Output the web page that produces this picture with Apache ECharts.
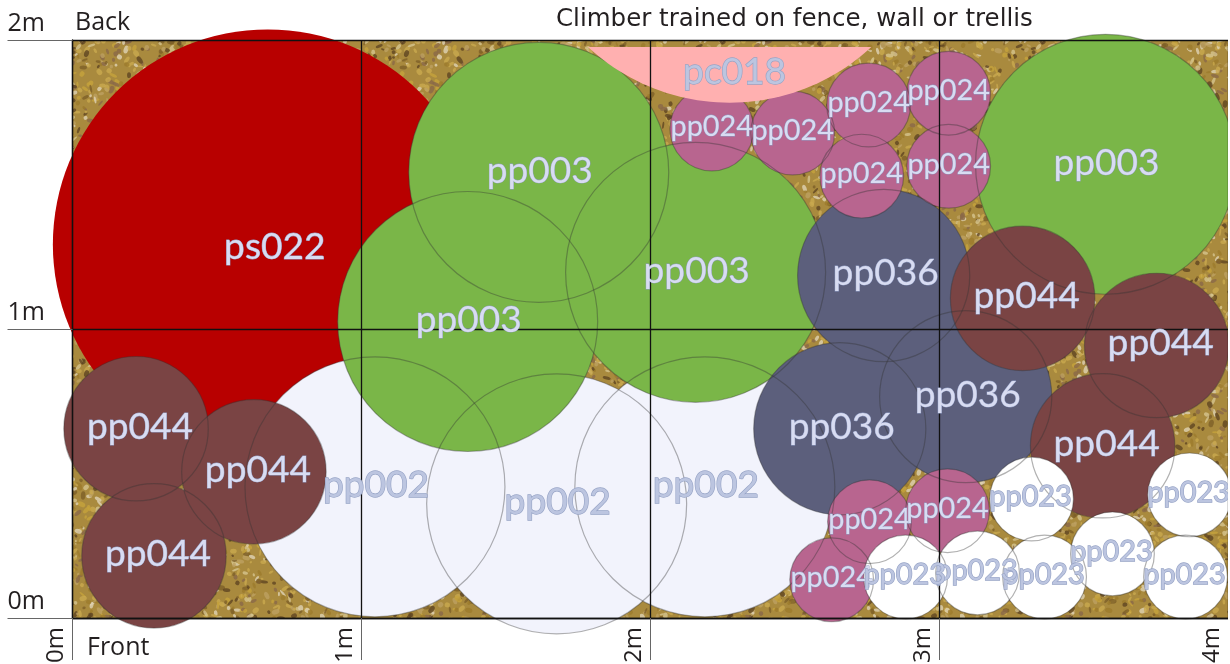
<!DOCTYPE html>
<html><head><meta charset="utf-8">
<style>html,body{margin:0;padding:0;background:#fff}#c{width:1230px;height:664px}</style>
<script src="https://cdn.jsdelivr.net/npm/echarts@6/dist/echarts.min.js"></script>
</head><body><div id="c"></div>
<script>
// positions in metres: [x, y]; radii in metres
const xTicks = ['0m','1m','2m','3m','4m'];
const yTicks = ['0m','1m','2m'];
const ps022 = [[0.676,1.293]];
const pp002 = [[1.047,0.454],[1.676,0.395],[2.189,0.454]];
const pp003 = [[1.614,1.542],[1.368,1.026],[2.157,1.196],[3.576,1.570]];
const pp036 = [[2.808,1.185],[2.656,0.655],[3.092,0.766]];
const pp044 = [[3.289,1.106],[3.753,0.943],[3.566,0.596],[0.220,0.655],[0.628,0.506],[0.282,0.215]];
const pp024 = [[2.213,1.692],[2.493,1.678],[2.756,1.775],[3.033,1.816],[2.732,1.529],[3.033,1.563],[2.759,0.333],[3.029,0.371],[2.628,0.132]];
const pp023 = [[3.320,0.412],[3.867,0.426],[3.600,0.222],[3.853,0.142],[3.365,0.142],[3.133,0.156],[2.884,0.142]];
const pc018 = [2.275,2.503];      // centre of climber's circle
const pc018Radius = 0.72;
const pc018Chord = 1.976;         // the fence-side cut of the climber
const pc018Label = [2.292,1.889];

const darkText={fill:'#d8dcf2',stroke:'#8f9cc4',lineWidth:0.8};
const paleText={fill:'#bcc5e0',stroke:'#97a4c6',lineWidth:1.3};
const species = [
  {name:'ps022', pts:ps022, r:0.744, fill:'#b80000', size:36, shift:[7,3], noLine:true, text:darkText},
  {name:'pp002', pts:pp002, r:0.45,  fill:'#f2f3fc', size:36, shift:[1,-2], text:paleText},
  {name:'pp003', pts:pp003, r:0.45,  fill:'#7ab648', size:36, shift:[1,-1], text:darkText},
  {name:'pp036', pts:pp036, r:0.298, fill:'#5c5f7c', size:36, shift:[2,-2], text:darkText},
  {name:'pp044', pts:pp044, r:0.25,  fill:'#7a4444', size:36, shift:[4,-2], text:darkText},
  {name:'pp024', pts:pp024, r:0.145, fill:'#b8658f', size:28, shift:[0,-2], text:darkText},
  {name:'pp023', pts:pp023, r:0.145, fill:'#ffffff', size:28, shift:[-1,-2], text:paleText},
  {name:'pc018', climber:true,       fill:'#ffb0b0', size:36, noLine:true, text:paleText}
];
// flat rows for the library: [speciesIndex, x, y, r]
const rows = [];
species.forEach((s,i)=>{
  if (s.climber) rows.push([i,pc018[0],pc018[1],pc018Radius]);
  else s.pts.forEach(p=>rows.push([i,p[0],p[1],s.r]));
});

function gravel(){
  const S=320, cv=document.createElement('canvas'); cv.width=cv.height=S;
  const g=cv.getContext('2d'); g.fillStyle='#a98a3e'; g.fillRect(0,0,S,S);
  let seed=12345; const rnd=()=>(seed=(seed*1664525+1013904223)%4294967296)/4294967296;
  const cols=['#7d5f28','#c9a94f','#9c7a2c','#d6c48e','#5f4522','#bda062','#ded2b4','#8a6848','#c6a23c','#c9a94f'];
  for(let i=0;i<2600;i++){
    g.fillStyle=cols[Math.floor(rnd()*cols.length)];
    g.globalAlpha=0.8;
    g.beginPath();
    g.ellipse(rnd()*S,rnd()*S,1.2+rnd()*3,0.9+rnd()*1.8,rnd()*3.14,0,6.3); g.fill();
  }
  return cv;
}

const font='"Open Sans","Noto Sans",sans-serif';
const labelFont='Lato,"Open Sans",sans-serif';
function climberPoints(api,row){
  const pts=[], dy=row[2]-pc018Chord, half=Math.acos(dy/row[3]);
  for(let k=0;k<=48;k++){
    const a=-half+2*half*k/48;
    pts.push(api.coord([row[1]+row[3]*Math.sin(a), row[2]-row[3]*Math.cos(a)]));
  }
  return pts;
}
function shape(params,api,style){
  const i=api.value(0), s=species[i], row=[i,api.value(1),api.value(2),api.value(3)];
  if(s.climber) return {type:'polygon',shape:{points:climberPoints(api,row)},style,silent:true};
  const c=api.coord([row[1],row[2]]), r=api.size([row[3],0])[0];
  return {type:'circle',shape:{cx:c[0],cy:c[1],r},style,silent:true};
}
const base={type:'custom',coordinateSystem:'cartesian2d',clip:false,silent:true,
  encode:{x:1,y:2},animation:false};
const plain=rows.filter(r=>!species[r[0]].climber);
const lined=rows.filter(r=>!species[r[0]].noLine);
const climber=rows.filter(r=>species[r[0]].climber);

const chart=echarts.init(document.getElementById('c'),null,{renderer:'canvas'});
chart.setOption({
  animation:false,
  title:[
    {text:'Climber trained on fence, wall or trellis',left:556,top:7,textStyle:{fontFamily:'"DejaVu Sans"',fontWeight:'normal',fontSize:24.5,color:'#231f20'},padding:0},
    {text:'Back',left:75,top:10,textStyle:{fontFamily:font,fontWeight:'normal',fontSize:25,color:'#231f20'},padding:0},
    {text:'Front',left:87,top:635,textStyle:{fontFamily:font,fontWeight:'normal',fontSize:25,color:'#231f20'},padding:0}
  ],
  grid:{left:72.5,right:2,top:40,bottom:46,show:true,borderWidth:0,outerBoundsMode:'none',backgroundColor:{image:gravel(),repeat:'repeat'}},
  xAxis:{type:'value',min:0,max:4,interval:1,z:4,
    axisLine:{show:true,onZero:false,lineStyle:{color:'#111',width:1.3}},
    axisTick:{show:true,length:42,lineStyle:{color:'#666',width:1}},
    splitLine:{show:true,lineStyle:{color:'#111',width:1.3}},
    axisLabel:{rotate:90,margin:9,align:'right',verticalAlign:'bottom',padding:[0,0,4,0],fontFamily:font,fontSize:24,color:'#231f20',
      formatter:v=>xTicks[v],showMinLabel:true,showMaxLabel:true,hideOverlap:false}},
  yAxis:{type:'value',min:0,max:2,interval:1,z:4,
    axisLine:{show:true,onZero:false,lineStyle:{color:'#111',width:1.3}},
    axisTick:{show:true,length:65,lineStyle:{color:'#666',width:1}},
    splitLine:{show:true,lineStyle:{color:'#111',width:1.3}},
    axisLabel:{margin:65,align:'left',verticalAlign:'bottom',padding:[0,0,4,0],fontFamily:font,fontSize:25,color:'#231f20',
      formatter:v=>yTicks[v],showMinLabel:true,showMaxLabel:true,hideOverlap:false}},
  series:[
    Object.assign({},base,{z:2,data:plain,renderItem:(p,api)=>shape(p,api,{fill:species[api.value(0)].fill,stroke:null})}),
    Object.assign({},base,{z:2.5,data:lined,renderItem:(p,api)=>shape(p,api,{fill:null,stroke:'rgba(50,50,50,0.38)',lineWidth:1.2})}),
    Object.assign({},base,{z:3,data:climber,renderItem:(p,api)=>shape(p,api,{fill:species[api.value(0)].fill,stroke:null})}),
    Object.assign({},base,{z:6,data:rows,renderItem:(p,api)=>{
      const s=species[api.value(0)];
      const c=s.climber?api.coord(pc018Label):api.coord([api.value(1),api.value(2)]);
      const sh=s.shift||[0,0];
      return {type:'text',silent:true,style:Object.assign({text:s.name,x:c[0]+sh[0],y:c[1]+sh[1],align:'center',verticalAlign:'middle',
        fontFamily:labelFont,fontSize:s.size*1.03},s.text)};
    }})
  ],
  graphic:[{type:'rect',right:0,top:0,shape:{width:2,height:664},style:{fill:'#fff'},z:100,silent:true}]
});
</script></body></html>
